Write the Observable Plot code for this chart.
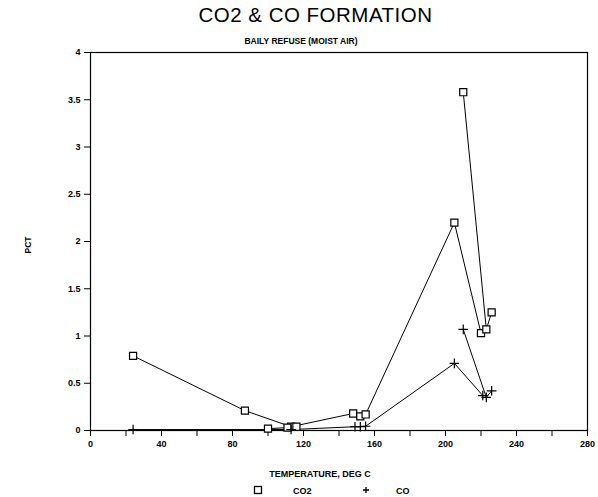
<!DOCTYPE html>
<html>
<head>
<meta charset="utf-8">
<script src="https://cdn.jsdelivr.net/npm/d3@7"></script>
<script src="https://cdn.jsdelivr.net/npm/@observablehq/plot@0.6"></script>
<style>
  body { margin: 0; background: #fff; }
  #wrap { position: relative; width: 598px; height: 497px; overflow: hidden; font-family: "Liberation Sans", Arial, sans-serif; color: #000; }
  .t { position: absolute; white-space: nowrap; }
  #title { left: 0; width: 631px; text-align: center; top: 3px; font-size: 20.5px; font-weight: normal; letter-spacing: 0.5px; }
  #subtitle { left: 0; width: 602px; text-align: center; top: 36px; font-size: 8.5px; font-weight: bold; }
  #xlabel { left: 0; width: 640px; text-align: center; top: 469px; font-size: 9px; font-weight: bold; }
  #ylabel { left: 28px; top: 245px; font-size: 8.5px; font-weight: bold; transform: translate(-50%,-50%) rotate(-90deg); }
  #legend { left: 0; top: 483px; font-size: 9px; font-weight: bold; width: 598px; }
  #plot { position: absolute; left: 0; top: 0; }
</style>
</head>
<body>
<div id="wrap">
  <div id="plot"></div>
  <div class="t" id="title">CO2 &amp; CO FORMATION</div>
  <div class="t" id="subtitle">BAILY REFUSE (MOIST AIR)</div>
  <div class="t" id="ylabel">PCT</div>
  <div class="t" id="xlabel">TEMPERATURE, DEG C</div>
  <div class="t" id="legend"></div>
</div>
<script>
// Data (temperature in deg C, percent)
const co2Run1Temp = [24, 87, 113, 148, 152, 155, 205, 220];
const co2Run1Pct  = [0.79, 0.21, 0.04, 0.18, 0.15, 0.17, 2.2, 1.03];
const co2Run2Temp = [210, 223, 226];
const co2Run2Pct  = [3.58, 1.07, 1.25];
const co2Run3Temp = [100, 111, 116];
const co2Run3Pct  = [0.02, 0.03, 0.04];

const coRun1Temp = [24, 113, 149, 152, 155, 205, 221];
const coRun1Pct  = [0.01, 0.01, 0.04, 0.04, 0.045, 0.71, 0.37];
const coRun2Temp = [210, 223, 226];
const coRun2Pct  = [1.07, 0.35, 0.42];

const xTicks = [0, 20, 40, 60, 80, 100, 120, 140, 160, 180, 200, 220, 240, 260, 280];
const yTicks = [0, 0.5, 1, 1.5, 2, 2.5, 3, 3.5, 4];

const mk = (temps, pcts, gas, run) => temps.map((t, i) => ({temp: t, pct: pcts[i], gas, run}));
const co2 = [
  ...mk(co2Run1Temp, co2Run1Pct, "CO2", 1),
  ...mk(co2Run2Temp, co2Run2Pct, "CO2", 2),
  ...mk(co2Run3Temp, co2Run3Pct, "CO2", 3)
];
const co = [
  ...mk(coRun1Temp, coRun1Pct, "CO", 1),
  ...mk(coRun2Temp, coRun2Pct, "CO", 2)
];

const chart = Plot.plot({
  width: 598,
  height: 497,
  marginLeft: 90,
  marginRight: 11,
  marginTop: 52,
  marginBottom: 67,
  style: {fontFamily: "Liberation Sans, Arial, sans-serif", fontSize: "9px", fontWeight: "bold", background: "#fff", color: "#000"},
  x: {domain: [0, 280]},
  y: {domain: [0, 4]},
  marks: [
    Plot.frame({stroke: "#000", strokeWidth: 1.2}),
    Plot.axisX({ticks: xTicks, tickSize: 6, tickFormat: d => d % 40 === 0 ? d : "", tickPadding: 4, label: null}),
    Plot.axisY({ticks: yTicks, tickSize: 6, tickFormat: d => d, tickPadding: 4, label: null}),
    Plot.line(co2, {x: "temp", y: "pct", z: "run", stroke: "#000", strokeWidth: 1}),
    Plot.line(co, {x: "temp", y: "pct", z: "run", stroke: "#000", strokeWidth: 1}),
    Plot.dot(co2, {x: "temp", y: "pct", symbol: "square", r: 4, stroke: "#000", fill: "#fff", strokeWidth: 1.2}),
    Plot.dot(co, {x: "temp", y: "pct", symbol: "plus", r: 3.2, stroke: "#000", strokeWidth: 1.2})
  ]
});
document.getElementById("plot").appendChild(chart);

// legend
const legend = document.getElementById("legend");
legend.innerHTML =
  '<svg width="598" height="14" style="position:absolute;left:0;top:0;overflow:visible">' +
  '<rect x="254.5" y="3.5" width="7" height="7" fill="#fff" stroke="#000" stroke-width="1.3"/>' +
  '<text x="293" y="11" font-size="9" font-weight="bold" font-family="Liberation Sans, Arial, sans-serif">CO2</text>' +
  '<path d="M366,4V10M363,7H369" stroke="#000" stroke-width="1.3"/>' +
  '<text x="396" y="11" font-size="9" font-weight="bold" font-family="Liberation Sans, Arial, sans-serif">CO</text>' +
  '</svg>';
</script>
</body>
</html>
